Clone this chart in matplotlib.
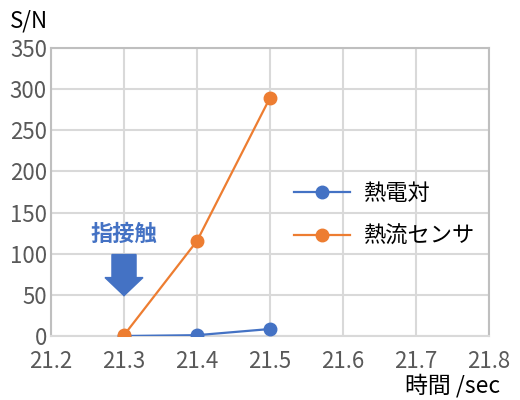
import numpy as np
from matplotlib import pyplot as plt
from matplotlib.patches import FancyArrow

plt.rcParams['font.family'] = ['Noto Sans CJK JP', 'DejaVu Sans']

time = [21.3, 21.4, 21.5]
thermocouple = [0, 1, 8.5]
heat_flux = [1, 115.5, 289.5]

x_ticks = [21.2, 21.3, 21.4, 21.5, 21.6, 21.7, 21.8]
y_ticks = [0, 50, 100, 150, 200, 250, 300, 350]

blue = '#4472C4'
orange = '#ED7D31'

fig = plt.figure(figsize=(5.2, 4.0), dpi=100)
ax = fig.add_axes([51 / 520, 1 - 336 / 400, 438 / 520, 288 / 400])

ax.plot(time, thermocouple, color=blue, lw=1.6, marker='o', ms=9, label='熱電対', zorder=3)
ax.plot(time, heat_flux, color=orange, lw=1.6, marker='o', ms=9, label='熱流センサ', zorder=4)

ax.set_xlim(21.2, 21.8)
ax.set_ylim(0, 350)
ax.set_xticks(x_ticks)
ax.set_yticks(y_ticks)
ax.set_xticklabels([f'{v:.1f}' for v in x_ticks])
ax.grid(True, color='#D9D9D9', lw=1.5)
ax.set_axisbelow(True)
for side in ['left', 'top', 'right']:
    ax.spines[side].set_color('#BFBFBF')
    ax.spines[side].set_linewidth(1.5)
ax.spines['bottom'].set_color('#D9D9D9')
ax.spines['bottom'].set_linewidth(1.5)
ax.tick_params(length=0, labelsize=16, colors='#595959')
ax.tick_params(axis='y', pad=3)
ax.tick_params(axis='x', pad=10)

# finger contact marker
ax.text(21.3, 110, '指接触', color=blue, fontsize=16, fontweight='bold',
        ha='center', va='bottom')
ax.add_patch(FancyArrow(21.3, 99, 0, -50, width=0.033, head_width=0.052,
                        head_length=22, length_includes_head=True,
                        color=blue, zorder=5))

leg = ax.legend(loc='upper left', bbox_to_anchor=(0.51, 0.605), frameon=False,
                fontsize=16, handlelength=2.5, labelspacing=0.9,
                handletextpad=0.6)

fig.text(10 / 520, 1 - 21 / 400, 'S/N', fontsize=16, va='center', ha='left')
fig.text(500 / 520, 1 - 386 / 400, '時間 /sec', fontsize=16.5, va='center', ha='right')

fig.savefig('out.png', dpi=100)
